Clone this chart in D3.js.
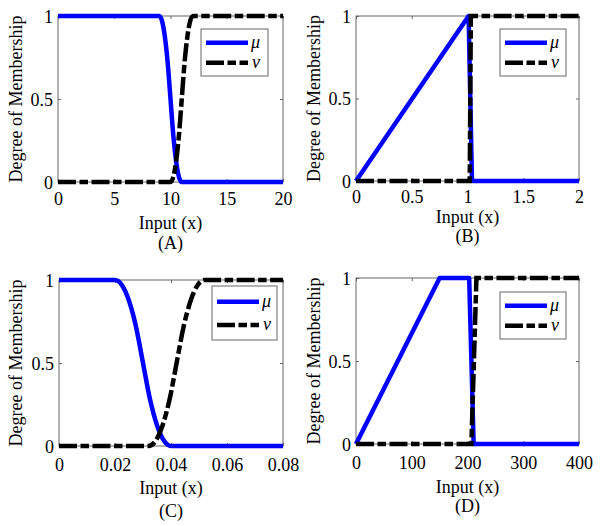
<!DOCTYPE html>
<html>
<head>
<meta charset="utf-8">
<script src="https://cdn.jsdelivr.net/npm/d3@7"></script>
<style>
  html, body { margin: 0; padding: 0; background: #fff; }
  svg text { font-family: "Liberation Serif", "Times New Roman", serif; fill: #000; }
</style>
</head>
<body>
<svg id="chart" width="600" height="526"></svg>
<script>
// ---- Data ----
const yTicks = [0, 0.5, 1];
const yTickLabels = ["0", "0.5", "1"];

const xTicksA = [0, 5, 10, 15, 20];
const xTickLabelsA = ["0", "5", "10", "15", "20"];
const muA = [[0,1],[9,1],[9.25,0.969],[9.5,0.875],[9.75,0.719],[10,0.5],[10.25,0.281],[10.5,0.125],[10.75,0.031],[11,0],[20,0]];
const nuA = [[0,0],[10,0],[10.25,0.031],[10.5,0.125],[10.75,0.281],[11,0.5],[11.25,0.719],[11.5,0.875],[11.75,0.969],[12,1],[20,1]];

const xTicksB = [0, 0.5, 1, 1.5, 2];
const xTickLabelsB = ["0", "0.5", "1", "1.5", "2"];
const muB = [[0,0],[1.01,1],[1.04,0],[2,0]];
const nuB = [[0,0],[1.02,0],[1.03,1],[2,1]];

const xTicksC = [0, 0.02, 0.04, 0.06, 0.08];
const xTickLabelsC = ["0", "0.02", "0.04", "0.06", "0.08"];
const muC = [[0,1],[0.02,1],[0.0225,0.969],[0.025,0.875],[0.0275,0.719],[0.03,0.5],[0.0325,0.281],[0.035,0.125],[0.0375,0.031],[0.04,0],[0.08,0]];
const nuC = [[0,0],[0.032,0],[0.0345,0.031],[0.037,0.125],[0.0395,0.281],[0.042,0.5],[0.0445,0.719],[0.047,0.875],[0.0495,0.969],[0.052,1],[0.08,1]];

const xTicksD = [0, 100, 200, 300, 400];
const xTickLabelsD = ["0", "100", "200", "300", "400"];
const muD = [[0,0],[150,1],[203,1],[211,0],[400,0]];
const nuD = [[0,0],[207,0],[216,1],[400,1]];

const xLabel = "Input (x)";
const yLabel = "Degree of Membership";
const legendLabels = ["\u03BC", "\u03BD"];

// ---- Layout ----
const panels = [
  { cap: "(A)", mu: muA, nu: nuA, ticks: xTicksA, labels: xTickLabelsA, dom: [0, 20], smooth: true,
    box: { l: 58, r: 283, t: 16, b: 182 }, tickY: 199, xlabY: 223, capY: 243, ylabX: 16,
    leg: { x: 201, y: 29, w: 67, h: 47 } },
  { cap: "(B)", mu: muB, nu: nuB, ticks: xTicksB, labels: xTickLabelsB, dom: [0, 2], smooth: false,
    box: { l: 356, r: 579, t: 16, b: 181 }, tickY: 196.5, xlabY: 217, capY: 236, ylabX: 314,
    leg: { x: 500, y: 29, w: 66, h: 47 } },
  { cap: "(C)", mu: muC, nu: nuC, ticks: xTicksC, labels: xTickLabelsC, dom: [0, 0.08], smooth: true,
    box: { l: 59, r: 283, t: 280, b: 446 }, tickY: 465, xlabY: 488, capY: 511, ylabX: 16,
    leg: { x: 212, y: 286, w: 65, h: 54 } },
  { cap: "(D)", mu: muD, nu: nuD, ticks: xTicksD, labels: xTickLabelsD, dom: [0, 400], smooth: false,
    box: { l: 356, r: 579, t: 278, b: 444 }, tickY: 463, xlabY: 487, capY: 506, ylabX: 314,
    leg: { x: 500, y: 292, w: 66, h: 47 } }
];

const svg = d3.select("#chart");
const FS = 18;
const axisColor = "#666";
const dash = "18,3.5,8.5,3.5";
const LW = 4.5;

panels.forEach(p => {
  const b = p.box;
  const x = d3.scaleLinear().domain(p.dom).range([b.l, b.r]);
  const y = d3.scaleLinear().domain([0, 1]).range([b.b, b.t]);
  const g = svg.append("g");

  // frame
  g.append("rect").attr("x", b.l).attr("y", b.t).attr("width", b.r - b.l).attr("height", b.b - b.t)
    .attr("fill", "none").attr("stroke", axisColor).attr("stroke-width", 1);

  // axes with inward ticks
  const ax = g.append("g").attr("transform", `translate(0,${b.b})`)
    .call(d3.axisBottom(x).tickValues(p.ticks).tickSize(-3).tickFormat((d, i) => p.labels[i]));
  ax.selectAll("text").attr("y", p.tickY - b.b).attr("dy", "0.35em").style("font-size", FS + "px")
    .style("font-family", '"Liberation Serif", serif');
  g.append("g").attr("transform", `translate(0,${b.t})`)
    .call(d3.axisTop(x).tickValues(p.ticks).tickSize(-3).tickFormat(""));
  const ay = g.append("g").attr("transform", `translate(${b.l},0)`)
    .call(d3.axisLeft(y).tickValues(yTicks).tickSize(-3).tickFormat((d, i) => yTickLabels[i]));
  ay.selectAll("text").attr("x", -5).attr("dy", "0.35em").style("font-size", FS + "px")
    .style("font-family", '"Liberation Serif", serif');
  g.append("g").attr("transform", `translate(${b.r},0)`)
    .call(d3.axisRight(y).tickValues(yTicks).tickSize(-3).tickFormat(""));
  g.selectAll(".domain").remove();
  g.selectAll(".tick line").attr("stroke", axisColor);

  // labels
  g.append("text").attr("x", (b.l + b.r) / 2).attr("y", p.xlabY).attr("dy", "0.35em")
    .attr("text-anchor", "middle").style("font-size", FS + "px").text(xLabel);
  g.append("text").attr("x", (b.l + b.r) / 2).attr("y", p.capY).attr("dy", "0.35em")
    .attr("text-anchor", "middle").style("font-size", FS + "px").text(p.cap);
  g.append("text").attr("transform", `translate(${p.ylabX},${(b.t + b.b) / 2}) rotate(-90)`)
    .attr("dy", "0.35em").attr("text-anchor", "middle").style("font-size", FS + "px").text(yLabel);

  // lines
  const line = d3.line().x(d => x(d[0])).y(d => y(d[1]))
    .curve(p.smooth ? d3.curveMonotoneX : d3.curveLinear);
  g.append("path").datum(p.mu).attr("d", line).attr("fill", "none")
    .attr("stroke", "#0000ff").attr("stroke-width", LW).attr("stroke-linejoin", "round");
  g.append("path").datum(p.nu).attr("d", line).attr("fill", "none")
    .attr("stroke", "#000").attr("stroke-width", LW).attr("stroke-dasharray", dash);

  // legend
  const L = p.leg;
  const lg = g.append("g").attr("transform", `translate(${L.x},${L.y})`);
  lg.append("rect").attr("width", L.w).attr("height", L.h).attr("fill", "#fff")
    .attr("stroke", axisColor).attr("stroke-width", 1);
  const rows = [L.h * 0.29, L.h * 0.72];
  lg.append("line").attr("x1", 5).attr("x2", 47).attr("y1", rows[0]).attr("y2", rows[0])
    .attr("stroke", "#0000ff").attr("stroke-width", LW);
  lg.append("line").attr("x1", 5).attr("x2", 47).attr("y1", rows[1]).attr("y2", rows[1])
    .attr("stroke", "#000").attr("stroke-width", LW).attr("stroke-dasharray", dash);
  lg.append("text").attr("x", 50).attr("y", rows[0]).attr("dy", "0.3em").style("font-size", FS + "px")
    .style("font-style", "italic").text(legendLabels[0]);
  lg.append("text").attr("x", 51).attr("y", rows[1]).attr("dy", "0.3em").style("font-size", FS + "px")
    .style("font-style", "italic").text(legendLabels[1]);
});
</script>
</body>
</html>
